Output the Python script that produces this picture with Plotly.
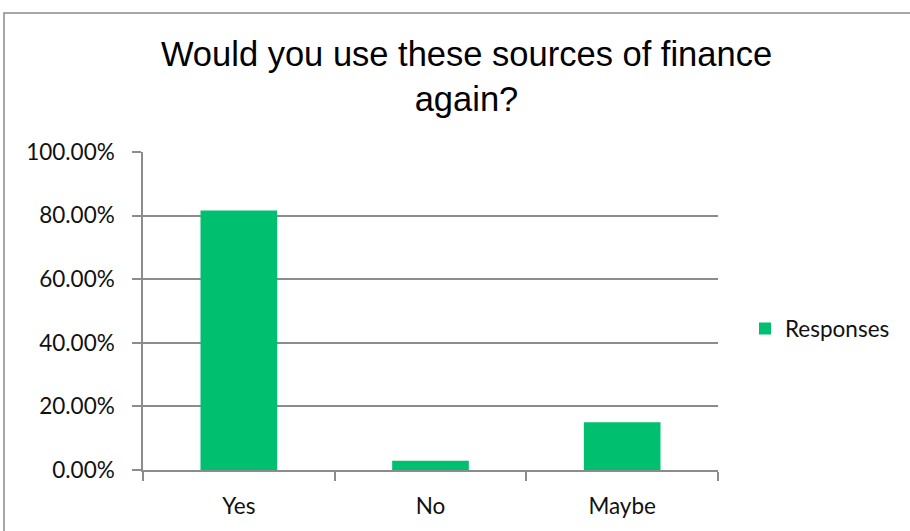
import plotly.graph_objects as go

# Survey answers and their share of responses
categories = ["Yes", "No", "Maybe"]
responses = [0.816, 0.029, 0.150]
series_name = "Responses"
y_ticks = [0, 0.2, 0.4, 0.6, 0.8, 1.0]

W, H = 910, 531
L, R, T, B = 143, 192, 152, 59

bar_color = "#00C070"
grid_color = "#8C8C8C"
label_font = dict(family="Lato, Carlito, Calibri, sans-serif", size=22.5, color="#111111")

fig = go.Figure(
    go.Bar(
        x=categories,
        y=responses,
        name=series_name,
        marker=dict(color=bar_color, line=dict(width=0)),
        showlegend=True,
    )
)

pw, ph = W - L - R, H - T - B

fig.update_layout(
    width=W,
    height=H,
    margin=dict(l=L, r=R, t=T, b=B, pad=0),
    paper_bgcolor="white",
    plot_bgcolor="white",
    bargap=0.6,
    title=dict(
        text="Would you use these sources of finance<br>again?",
        font=dict(family="Liberation Sans, Arial, sans-serif", size=34.5, color="#000000"),
        x=(141 + 792) / 2 / W,
        xanchor="center",
        y=1 - 66 / H,
        yanchor="middle",
    ),
    legend=dict(
        x=1 + 27 / pw,
        xanchor="left",
        y=(472 - 330) / ph,
        yanchor="middle",
        font=label_font,
        bgcolor="rgba(0,0,0,0)",
    ),
    xaxis=dict(
        type="category",
        showline=True,
        linecolor=grid_color,
        linewidth=1.5,
        ticks="outside",
        tickson="boundaries",
        ticklen=9,
        tickcolor=grid_color,
        tickwidth=1.5,
        showgrid=False,
        tickfont=label_font,
        ticklabelstandoff=15,
    ),
    yaxis=dict(
        range=[0, 1],
        tickvals=y_ticks,
        tickformat=".2%",
        showline=True,
        linecolor=grid_color,
        linewidth=1.5,
        ticks="outside",
        ticklen=9,
        tickcolor=grid_color,
        tickwidth=1.5,
        showgrid=True,
        gridcolor=grid_color,
        gridwidth=1.5,
        zeroline=False,
        tickfont=label_font,
        ticklabelstandoff=13,
    ),
)

# Outer chart frame (top and left edges fall inside the page)
fig.add_shape(
    type="rect",
    xref="paper", yref="paper",
    x0=(4 - L) / pw, x1=(W + 10 - L) / pw,
    y0=-(B + 10) / ph, y1=1 + (T - 12) / ph,
    line=dict(color="#8A8A8A", width=1.5),
    fillcolor="rgba(0,0,0,0)",
    layer="below",
)

fig.write_html("out.html")
